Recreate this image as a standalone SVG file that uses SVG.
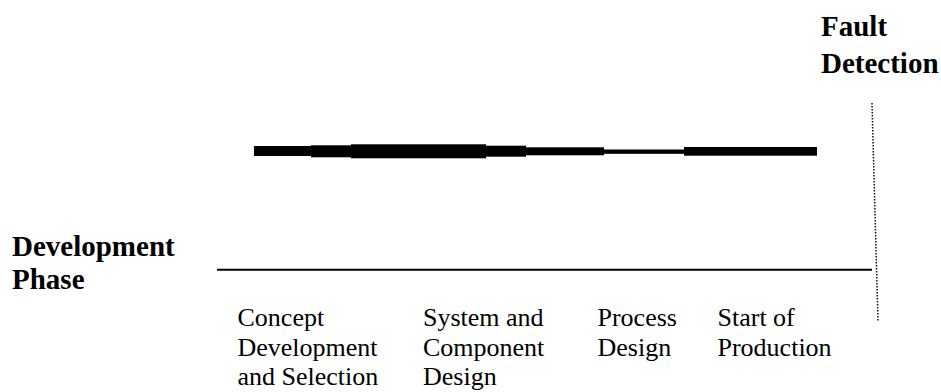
<svg xmlns="http://www.w3.org/2000/svg" width="941" height="392" viewBox="0 0 941 392">
<style>
.bold{font-family:"Liberation Serif","Times New Roman",serif;font-weight:bold;font-size:29px;fill:#000}
.reg{font-family:"Liberation Serif","Times New Roman",serif;font-size:26px;fill:#000}
.bar{fill:#000}
</style>
<rect width="941" height="392" fill="#fff"/>
<g id="fault-detection">
<text class="bold" x="821" y="36">Fault</text>
<text class="bold" x="821" y="73">Detection</text>
</g>
<g id="development-phase">
<text class="bold" x="12" y="256">Development</text>
<text class="bold" x="12" y="289">Phase</text>
</g>
<g id="detection-bar">
<rect class="bar" x="254" y="146" width="57" height="10"/>
<rect class="bar" x="311" y="145.3" width="40" height="12"/>
<rect class="bar" x="351" y="144.3" width="135" height="14"/>
<rect class="bar" x="486" y="145.7" width="40" height="11"/>
<rect class="bar" x="526" y="147.3" width="78" height="8"/>
<rect class="bar" x="604" y="149.5" width="80" height="4.3"/>
<rect class="bar" x="684" y="147" width="133" height="8.7"/>
</g>
<g id="connectors">
<line x1="217" y1="269.7" x2="872" y2="269.7" stroke="#000" stroke-width="2"/>
<line x1="872" y1="103" x2="878" y2="321" stroke="#111" stroke-width="1.5" stroke-dasharray="1.5 1.5"/>
</g>
<g id="phase-concept">
<text class="reg" x="237.5" y="326">Concept</text>
<text class="reg" x="237.5" y="356">Development</text>
<text class="reg" x="237.5" y="385">and Selection</text>
</g>
<g id="phase-system">
<text class="reg" x="423" y="326">System and</text>
<text class="reg" x="423" y="356">Component</text>
<text class="reg" x="423" y="385">Design</text>
</g>
<g id="phase-process">
<text class="reg" x="597.5" y="326">Process</text>
<text class="reg" x="597.5" y="356">Design</text>
</g>
<g id="phase-start">
<text class="reg" x="717.5" y="326">Start of</text>
<text class="reg" x="717.5" y="356">Production</text>
</g>
</svg>
